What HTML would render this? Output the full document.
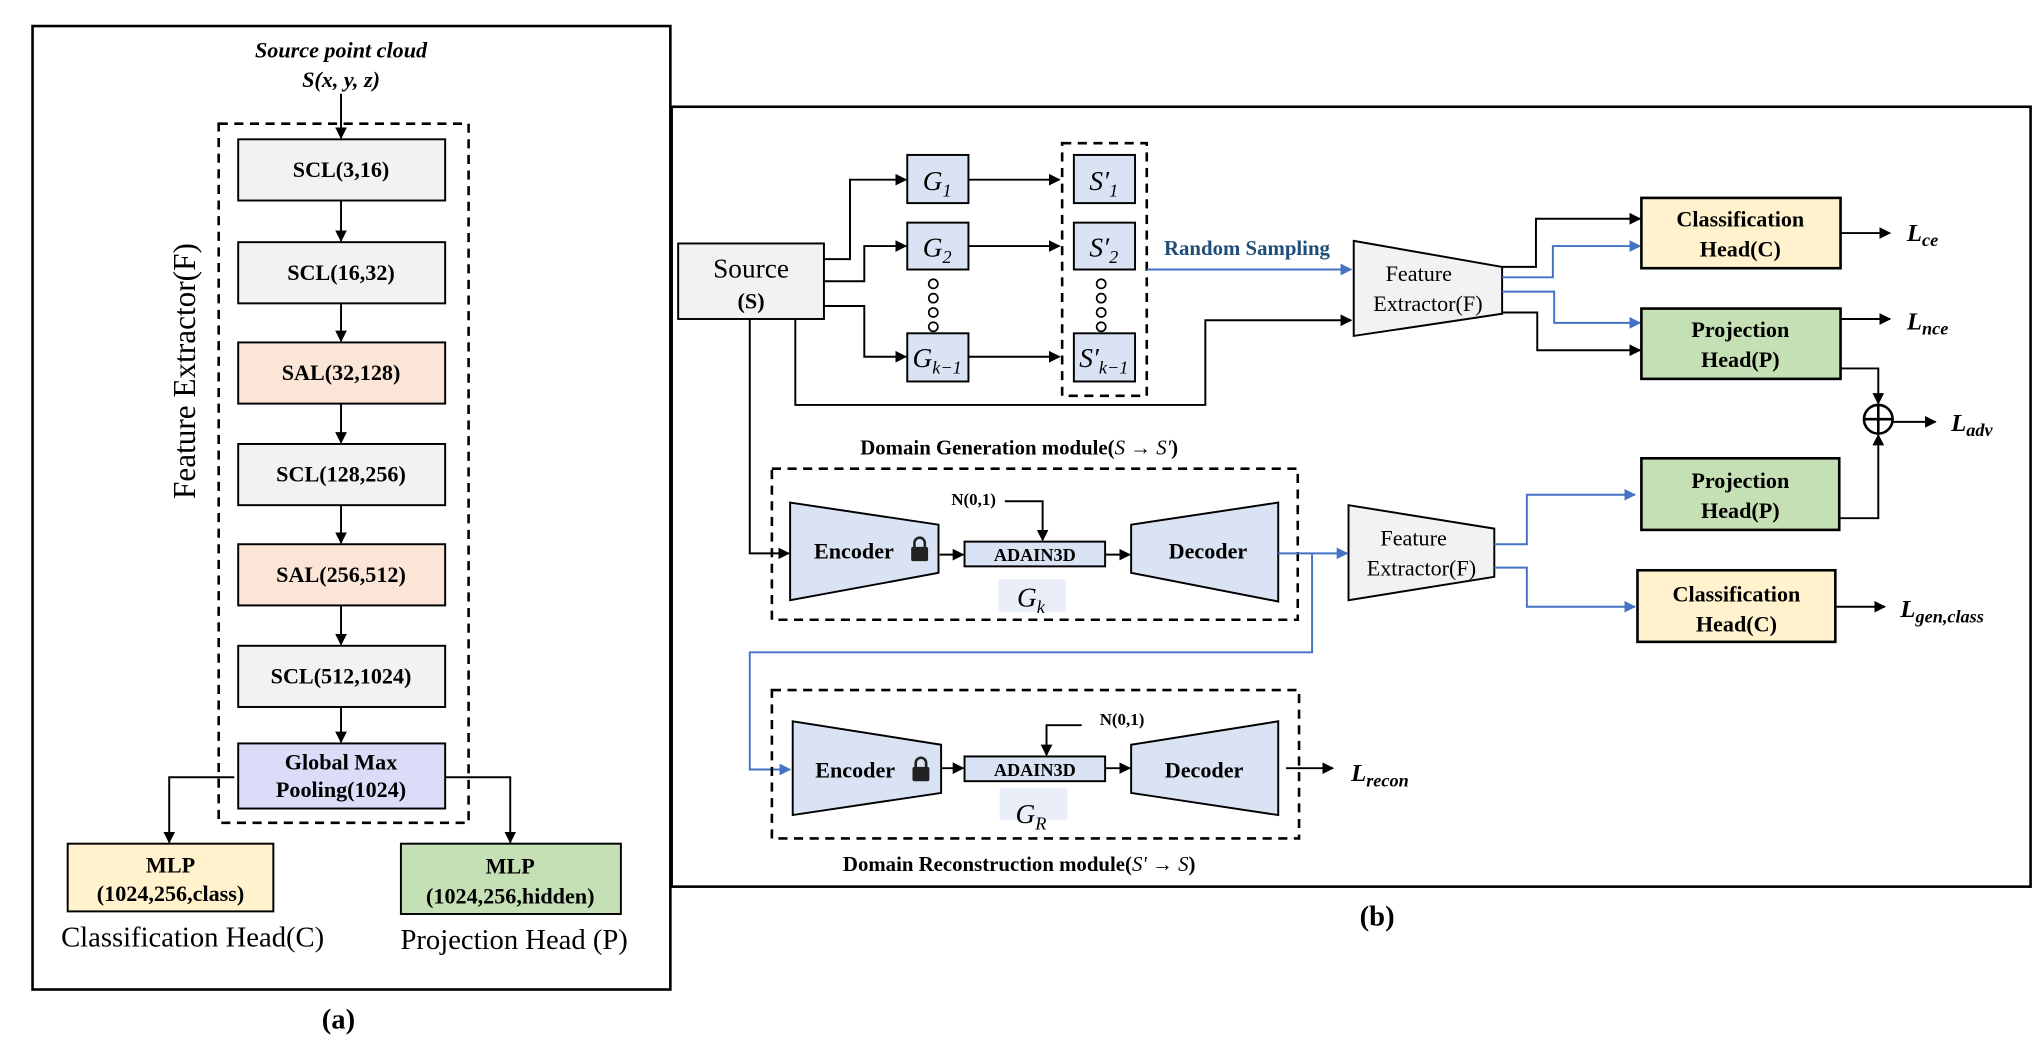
<!DOCTYPE html>
<html><head><meta charset="utf-8"><style>
html,body{margin:0;padding:0;background:#fff;}
svg{display:block;}
text{font-family:"Liberation Serif",serif;}
.b{font-weight:bold;}
</style></head><body>
<svg width="2041" height="1052" viewBox="0 0 1568 808" preserveAspectRatio="none" xmlns="http://www.w3.org/2000/svg">
<defs>
<marker id="ak" viewBox="0 0 10 10" refX="9" refY="5" markerWidth="9" markerHeight="9" markerUnits="userSpaceOnUse" orient="auto"><path d="M0,0L10,5L0,10z" fill="#000"/></marker>
<marker id="ab" viewBox="0 0 10 10" refX="9" refY="5" markerWidth="9" markerHeight="9" markerUnits="userSpaceOnUse" orient="auto"><path d="M0,0L10,5L0,10z" fill="#4472c4"/></marker>
</defs>
<g fill="none" stroke="#000" stroke-width="1.5">
<!-- LEFT PANEL -->
<rect x="25" y="20" width="490" height="740" stroke-width="2"/>
<rect x="168" y="95" width="192" height="537" stroke-dasharray="7,5" stroke-width="2"/>
<rect x="183" y="107" width="159" height="47" fill="#f2f2f2"/>
<rect x="183" y="186" width="159" height="47" fill="#f2f2f2"/>
<rect x="183" y="263" width="159" height="47" fill="#fbe5d6"/>
<rect x="183" y="341" width="159" height="47" fill="#f2f2f2"/>
<rect x="183" y="418" width="159" height="47" fill="#fbe5d6"/>
<rect x="183" y="496" width="159" height="47" fill="#f2f2f2"/>
<rect x="183" y="571" width="159" height="50" fill="#dadcf8"/>
<path d="M262,72V106" marker-end="url(#ak)"/>
<path d="M262,154V185" marker-end="url(#ak)"/>
<path d="M262,233V262" marker-end="url(#ak)"/>
<path d="M262,310V340" marker-end="url(#ak)"/>
<path d="M262,388V417" marker-end="url(#ak)"/>
<path d="M262,465V495" marker-end="url(#ak)"/>
<path d="M262,543V570" marker-end="url(#ak)"/>
<path d="M180,597H130V647" marker-end="url(#ak)"/>
<path d="M342,597H392V647" marker-end="url(#ak)"/>
<rect x="52" y="648" width="158" height="52" fill="#fff2cc"/>
<rect x="308" y="648" width="169" height="54" fill="#c5e0b4"/>

<!-- RIGHT PANEL -->
<rect x="516" y="82" width="1044" height="599" stroke-width="2"/>
<rect x="521" y="187" width="112" height="58" fill="#f2f2f2"/>
<rect x="697" y="119" width="47" height="37" fill="#dae3f3"/>
<rect x="697" y="171" width="47" height="36" fill="#dae3f3"/>
<rect x="697" y="256" width="47" height="37" fill="#dae3f3"/>
<rect x="816" y="110" width="65" height="194" stroke-dasharray="7,5" stroke-width="2"/>
<rect x="825" y="119" width="47" height="37" fill="#dae3f3"/>
<rect x="825" y="171" width="47" height="36" fill="#dae3f3"/>
<rect x="825" y="256" width="47" height="37" fill="#dae3f3"/>
<g stroke-width="1.3">
<circle cx="717" cy="218" r="3.5"/><circle cx="717" cy="229" r="3.5"/><circle cx="717" cy="240" r="3.5"/><circle cx="717" cy="251" r="3.5"/>
<circle cx="846" cy="218" r="3.5"/><circle cx="846" cy="229" r="3.5"/><circle cx="846" cy="240" r="3.5"/><circle cx="846" cy="251" r="3.5"/>
</g>
<path d="M633,199H653V138H696" marker-end="url(#ak)"/>
<path d="M633,216H664V189H696" marker-end="url(#ak)"/>
<path d="M633,235H664V274H696" marker-end="url(#ak)"/>
<path d="M744,138H814" marker-end="url(#ak)"/>
<path d="M744,189H814" marker-end="url(#ak)"/>
<path d="M744,274H814" marker-end="url(#ak)"/>
<path d="M576,245V425H606" marker-end="url(#ak)"/>
<path d="M611,245V311H926V246H1038" marker-end="url(#ak)"/>
<path d="M881,207H1038" stroke="#4472c4" marker-end="url(#ab)"/>
<!-- FE1 -->
<polygon points="1040,185 1154,205 1154,241 1040,258" fill="#f2f2f2"/>
<path d="M1154,205H1180V168H1260" marker-end="url(#ak)"/>
<path d="M1154,213H1193V189H1260" stroke="#4472c4" marker-end="url(#ab)"/>
<path d="M1154,224H1194V248H1260" stroke="#4472c4" marker-end="url(#ab)"/>
<path d="M1154,240H1181V269H1260" marker-end="url(#ak)"/>
<rect x="1261" y="152" width="153" height="54" fill="#fff2cc" stroke-width="2"/>
<rect x="1261" y="237" width="153" height="54" fill="#c5e0b4" stroke-width="2"/>
<path d="M1414,179H1452" marker-end="url(#ak)"/>
<path d="M1414,245H1452" marker-end="url(#ak)"/>
<path d="M1414,283H1443V310" marker-end="url(#ak)"/>
<path d="M1413,398H1443V334" marker-end="url(#ak)"/>
<circle cx="1443" cy="322" r="11" stroke-width="2"/>
<path d="M1432,322H1454M1443,311V333" stroke-width="2"/>
<path d="M1454,324H1487" marker-end="url(#ak)"/>
<rect x="1261" y="352" width="152" height="55" fill="#c5e0b4" stroke-width="2"/>
<rect x="1258" y="438" width="152" height="55" fill="#fff2cc" stroke-width="2"/>
<path d="M1410,466H1448" marker-end="url(#ak)"/>
<!-- FE2 -->
<polygon points="1036,388 1148,406 1148,443 1036,461" fill="#f2f2f2"/>
<path d="M1148,418H1173V380H1256" stroke="#4472c4" marker-end="url(#ab)"/>
<path d="M1148,436H1173V466H1256" stroke="#4472c4" marker-end="url(#ab)"/>
<!-- Gen module -->
<rect x="593" y="360" width="404" height="116" stroke-dasharray="7,5" stroke-width="2"/>
<polygon points="607,386 721,403 721,440 607,461" fill="#dae3f3"/>
<rect x="741" y="416" width="108" height="19" fill="#dae3f3"/>
<polygon points="869,403 982,386 982,462 869,440" fill="#dae3f3"/>
<path d="M722,426H740" marker-end="url(#ak)"/>
<path d="M849,426H868" marker-end="url(#ak)"/>
<path d="M772,385H801V415" marker-end="url(#ak)"/>
<path d="M982,425H1035" stroke="#4472c4" marker-end="url(#ab)"/>
<path d="M1008,425V501H576V591H607" stroke="#4472c4" marker-end="url(#ab)"/>
<rect x="767" y="445" width="52" height="25" fill="#dae3f3" stroke="none" opacity="0.6"/>
<!-- Recon module -->
<rect x="593" y="530" width="405" height="114" stroke-dasharray="7,5" stroke-width="2"/>
<polygon points="609,554 723,572 723,609 609,626" fill="#dae3f3"/>
<rect x="741" y="581" width="108" height="19" fill="#dae3f3"/>
<polygon points="869,572 982,554 982,626 869,609" fill="#dae3f3"/>
<path d="M723,590H740" marker-end="url(#ak)"/>
<path d="M849,590H868" marker-end="url(#ak)"/>
<path d="M831,557H804V580" marker-end="url(#ak)"/>
<path d="M988,590H1024" marker-end="url(#ak)"/>
<rect x="768" y="605" width="52" height="25" fill="#dae3f3" stroke="none" opacity="0.6"/>
</g>

<!-- lock icons -->
<g fill="#222">
<rect x="700" y="420" width="13" height="11" rx="1.5"/>
<path d="M702.5,421v-4a4,4 0 0 1 8,0v4" fill="none" stroke="#222" stroke-width="2"/>
<rect x="701" y="589" width="13" height="11" rx="1.5"/>
<path d="M703.5,590v-4a4,4 0 0 1 8,0v4" fill="none" stroke="#222" stroke-width="2"/>
</g>

<!-- LEFT TEXT -->
<g text-anchor="middle" class="b" font-size="17">
<text x="262" y="44" font-style="italic" font-size="17" class="b" font-weight="bold">Source point cloud</text>
<text x="262" y="67" font-style="italic" font-weight="bold">S(x, y, z)</text>
<text x="262" y="136" font-weight="bold">SCL(3,16)</text>
<text x="262" y="215" font-weight="bold">SCL(16,32)</text>
<text x="262" y="292" font-weight="bold">SAL(32,128)</text>
<text x="262" y="370" font-weight="bold">SCL(128,256)</text>
<text x="262" y="447" font-weight="bold">SAL(256,512)</text>
<text x="262" y="525" font-weight="bold">SCL(512,1024)</text>
<text x="262" y="591" font-weight="bold">Global Max</text>
<text x="262" y="612" font-weight="bold">Pooling(1024)</text>
<text x="131" y="670" font-weight="bold">MLP</text>
<text x="131" y="692" font-weight="bold">(1024,256,class)</text>
<text x="392" y="671" font-weight="bold">MLP</text>
<text x="392" y="694" font-weight="bold">(1024,256,hidden)</text>
</g>
<text x="148" y="727" text-anchor="middle" font-size="22">Classification Head(C)</text>
<text x="395" y="729" text-anchor="middle" font-size="22">Projection Head (P)</text>
<text x="150" y="285" text-anchor="middle" font-size="24" transform="rotate(-90 150 285)">Feature Extractor(F)</text>
<text x="260" y="790" text-anchor="middle" font-size="22" font-weight="bold">(a)</text>

<!-- RIGHT TEXT -->
<text x="577" y="213" text-anchor="middle" font-size="21">Source</text>
<text x="577" y="237" text-anchor="middle" font-size="17" font-weight="bold">(S)</text>
<g font-style="italic" font-size="21" text-anchor="middle">
<text x="720" y="146">G<tspan font-size="14" dy="5">1</tspan></text>
<text x="720" y="197">G<tspan font-size="14" dy="5">2</tspan></text>
<text x="720" y="282">G<tspan font-size="14" dy="5">k−1</tspan></text>
<text x="848" y="146">S′<tspan font-size="14" dy="5">1</tspan></text>
<text x="848" y="197">S′<tspan font-size="14" dy="5">2</tspan></text>
<text x="848" y="282">S′<tspan font-size="14" dy="5">k−1</tspan></text>
<text x="792" y="466">G<tspan font-size="14" dy="5">k</tspan></text>
<text x="792" y="632">G<tspan font-size="14" dy="5">R</tspan></text>
</g>
<text x="958" y="196" text-anchor="middle" font-size="16" font-weight="bold" fill="#1f4e79">Random Sampling</text>
<text x="1090" y="216" text-anchor="middle" font-size="17">Feature</text>
<text x="1097" y="239" text-anchor="middle" font-size="17">Extractor(F)</text>
<text x="1086" y="419" text-anchor="middle" font-size="17">Feature</text>
<text x="1092" y="442" text-anchor="middle" font-size="17">Extractor(F)</text>
<g text-anchor="middle" font-size="17" font-weight="bold">
<text x="1337" y="174">Classification</text>
<text x="1337" y="197">Head(C)</text>
<text x="1337" y="259">Projection</text>
<text x="1337" y="282">Head(P)</text>
<text x="1337" y="375">Projection</text>
<text x="1337" y="398">Head(P)</text>
<text x="1334" y="462">Classification</text>
<text x="1334" y="485">Head(C)</text>
<text x="656" y="429">Encoder</text>
<text x="928" y="429">Decoder</text>
<text x="657" y="597">Encoder</text>
<text x="925" y="597">Decoder</text>
<text x="795" y="431" font-size="14">ADAIN3D</text>
<text x="795" y="596" font-size="14">ADAIN3D</text>
<text x="783" y="349" font-size="16">Domain Generation module(<tspan font-style="italic" font-weight="normal">S</tspan> → <tspan font-style="italic" font-weight="normal">S′</tspan>)</text>
<text x="783" y="669" font-size="16">Domain Reconstruction module(<tspan font-style="italic" font-weight="normal">S′</tspan> → <tspan font-style="italic" font-weight="normal">S</tspan>)</text>
</g>
<text x="748" y="388" text-anchor="middle" font-size="13" font-weight="bold">N(0,1)</text>
<text x="862" y="557" text-anchor="middle" font-size="13" font-weight="bold">N(0,1)</text>
<g font-style="italic" font-weight="bold" font-size="19">
<text x="1465" y="185">L<tspan font-size="14" dy="4">ce</tspan></text>
<text x="1465" y="253">L<tspan font-size="14" dy="4">nce</tspan></text>
<text x="1499" y="331">L<tspan font-size="14" dy="4">adv</tspan></text>
<text x="1460" y="474">L<tspan font-size="14" dy="4">gen,class</tspan></text>
<text x="1038" y="600">L<tspan font-size="14" dy="4">recon</tspan></text>
</g>
<text x="1058" y="711" text-anchor="middle" font-size="22" font-weight="bold">(b)</text>
</svg>
</body></html>
